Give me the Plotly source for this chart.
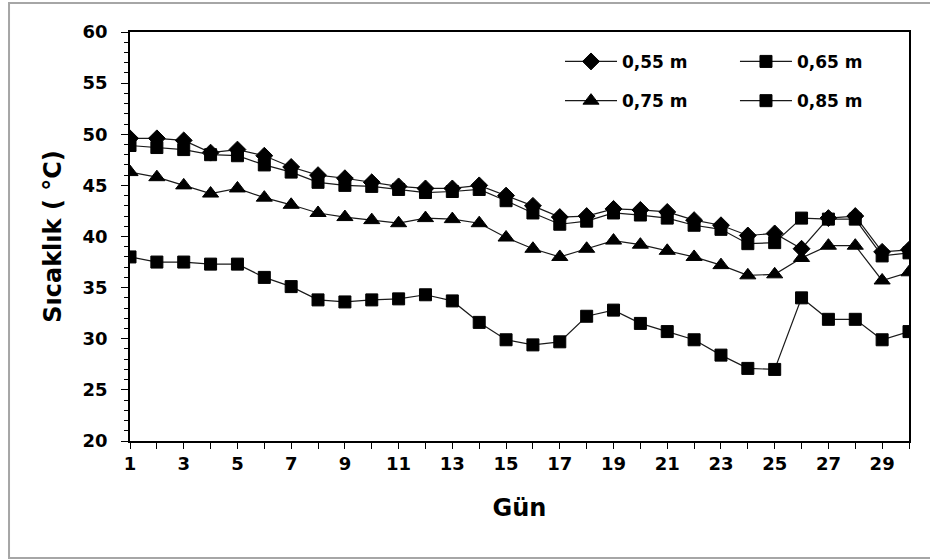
import plotly.graph_objects as go

# Daily soil temperature at four depths
days = list(range(1, 31))
t_055 = [49.6, 49.6, 49.4, 48.2, 48.5, 47.9, 46.8, 46.0, 45.7, 45.3,
         44.9, 44.7, 44.7, 45.0, 44.0, 43.0, 41.9, 42.0, 42.7, 42.6,
         42.4, 41.6, 41.1, 40.1, 40.3, 38.8, 41.8, 42.0, 38.5, 38.7]
t_065 = [48.9, 48.7, 48.5, 48.0, 47.9, 47.0, 46.3, 45.3, 45.0, 44.9,
         44.6, 44.3, 44.4, 44.6, 43.5, 42.3, 41.2, 41.5, 42.3, 42.1,
         41.8, 41.1, 40.7, 39.3, 39.4, 41.8, 41.7, 41.7, 38.1, 38.4]
t_075 = [46.3, 45.8, 45.0, 44.2, 44.7, 43.8, 43.1, 42.3, 41.9, 41.6,
         41.3, 41.8, 41.7, 41.3, 39.9, 38.8, 38.0, 38.8, 39.6, 39.2,
         38.6, 38.0, 37.2, 36.2, 36.3, 37.9, 39.1, 39.1, 35.7, 36.5]
t_085 = [38.0, 37.5, 37.5, 37.3, 37.3, 36.0, 35.1, 33.8, 33.6, 33.8,
         33.9, 34.3, 33.7, 31.6, 29.9, 29.4, 29.7, 32.2, 32.8, 31.5,
         30.7, 29.9, 28.4, 27.1, 27.0, 34.0, 31.9, 31.9, 29.9, 30.7]
depth_labels = ["0,55 m", "0,65 m", "0,75 m", "0,85 m"]
x_tick_text = [str(d) if d % 2 == 1 else "" for d in days]

FONT = "DejaVu Sans, Verdana, sans-serif"

series = [
    (t_055, depth_labels[0], "diamond", 13, "legend", 0.927, 0.552),
    (t_065, depth_labels[1], "square", 12, "legend2", 0.927, 0.7766),
    (t_075, depth_labels[2], "triangle-up", 14, "legend3", 0.831, 0.552),
    (t_085, depth_labels[3], "square", 12, "legend4", 0.831, 0.7766),
]

fig = go.Figure()
legend_layout = {}
for vals, name, sym, size, leg, ly, lx in series:
    fig.add_trace(go.Scatter(
        x=days, y=vals, name=name, mode="lines+markers",
        line=dict(color="#1a1a1a", width=1.2),
        marker=dict(symbol=sym, size=size, color="black",
                    line=dict(color="black", width=1)),
        legend=leg,
    ))
    legend_layout[leg] = dict(
        x=lx, y=ly, xanchor="left", yanchor="middle",
        bgcolor="rgba(0,0,0,0)", borderwidth=0,
        font=dict(family=FONT, size=17, color="black", weight="bold"),
        itemwidth=52,
    )

fig.update_layout(
    width=930, height=560,
    margin=dict(l=130, r=21, t=32, b=119),
    paper_bgcolor="white", plot_bgcolor="white",
    font=dict(family=FONT, color="black"),
    showlegend=True,
    **legend_layout,
)

fig.update_xaxes(
    range=[1, 30], tickmode="array", tickvals=days, ticktext=x_tick_text,
    ticks="outside", ticklen=6, tickwidth=1.2, tickcolor="black",
    showline=True, linecolor="black", linewidth=1.5, mirror=True,
    showgrid=False, zeroline=False, ticklabelstandoff=0,
    tickfont=dict(family=FONT, size=18, color="black", weight="bold"),
    title=dict(text="Gün", font=dict(family=FONT, size=24, weight="bold"),
               standoff=26),
)
fig.update_yaxes(
    range=[20, 60], tickmode="linear", tick0=20, dtick=5,
    ticks="outside", ticklen=7, tickwidth=1.2, tickcolor="black",
    minor=dict(dtick=1, ticks="outside", ticklen=4, tickwidth=1,
               tickcolor="black"),
    showline=True, linecolor="black", linewidth=1.5, mirror=True,
    showgrid=False, zeroline=False, ticklabelstandoff=10,
    tickfont=dict(family=FONT, size=18, color="black", weight="bold"),
    title=dict(text="Sıcaklık ( °C)",
               font=dict(family=FONT, size=24, weight="bold"), standoff=14),
)

# Chart-area frame
fig.add_shape(type="rect", xref="paper", yref="paper",
              x0=-0.1553, x1=1.04, y0=-0.286, y1=1.0709,
              line=dict(color="#a6a6a6", width=2), layer="below")

fig.write_html("out.html")
